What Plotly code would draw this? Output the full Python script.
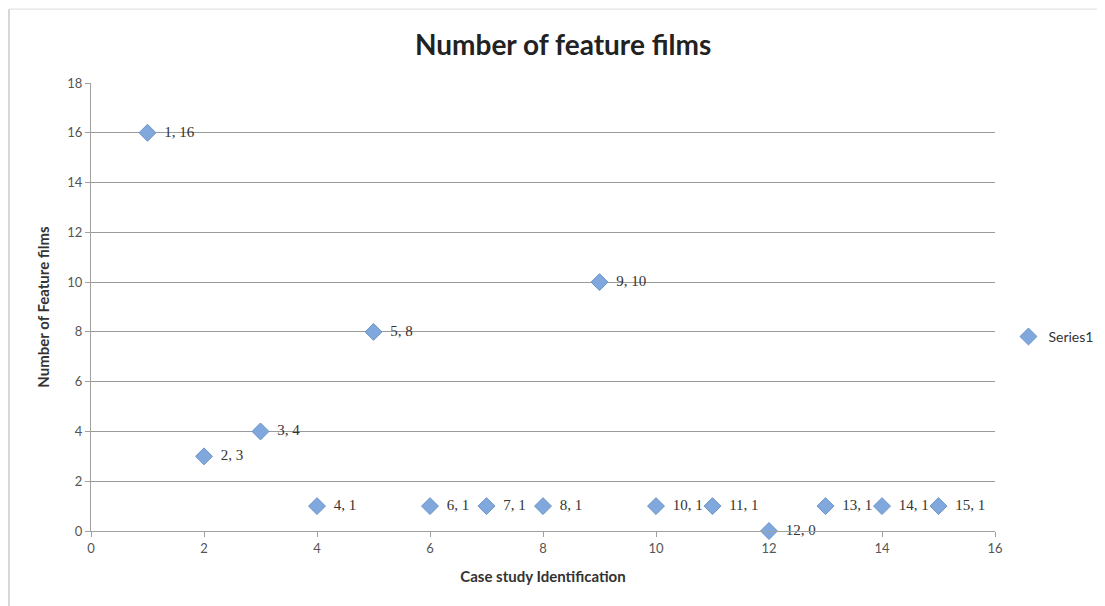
import plotly.graph_objects as go

case_ids = [1, 2, 3, 4, 5, 6, 7, 8, 9, 10, 11, 12, 13, 14, 15]
films = [16, 3, 4, 1, 8, 1, 1, 1, 10, 1, 1, 0, 1, 1, 1]
labels = ["  %d, %d" % (a, b) for a, b in zip(case_ids, films)]

fig = go.Figure()
fig.add_trace(go.Scatter(
    x=case_ids, y=films, mode="markers+text", name="Series1",
    text=labels, textposition="middle right",
    textfont=dict(family="Liberation Serif, serif", size=15, color="#333333"),
    marker=dict(symbol="diamond", size=13, color="#80a8dc",
                line=dict(color="#6a93c8", width=1)),
    cliponaxis=False,
))

fig.update_layout(
    width=1097, height=598,
    paper_bgcolor="white", plot_bgcolor="white",
    margin=dict(l=83, r=110, t=75, b=75, autoexpand=False),
    title=dict(text="<b>Number of feature films</b>", x=0.506, xanchor="center",
               y=0.938, yanchor="middle",
               font=dict(family="Lato, Open Sans, sans-serif", size=28, color="#222222")),
    font=dict(family="Lato, Open Sans, sans-serif", size=13, color="#555555"),
    showlegend=True,
    legend=dict(xref="container", yref="container", x=0.912, y=0.45,
                xanchor="left", yanchor="middle",
                font=dict(size=14, color="#333333"), itemwidth=30,
                tracegroupgap=0),
    xaxis=dict(range=[0, 16], dtick=2, showgrid=False, zeroline=False,
               showline=True, linecolor="#a0a0a0", linewidth=1,
               ticks="outside", ticklen=5, tickcolor="#a0a0a0",
               title=dict(text="<b>Case study Identification</b>", standoff=16,
                          font=dict(size=15, color="#333333"))),
    yaxis=dict(range=[0, 18], dtick=2, showgrid=True, gridcolor="#9a9a9a",
               zeroline=False, showline=True, linecolor="#a0a0a0", linewidth=1,
               ticks="outside", ticklen=5, tickcolor="#a0a0a0",
               title=dict(text="<b>Number of Feature films</b>", standoff=14,
                          font=dict(size=15, color="#333333"))),
    shapes=[
        dict(type="line", xref="paper", yref="paper", x0=-0.0907, x1=-0.0907, y0=-0.2, y1=1.165,
             line=dict(color="#b0b0b0", width=1)),
        dict(type="line", xref="paper", yref="paper", x0=-0.0907, x1=1.12, y0=1.165, y1=1.165,
             line=dict(color="#dddddd", width=1)),
    ],
)

fig.write_html("out.html")
